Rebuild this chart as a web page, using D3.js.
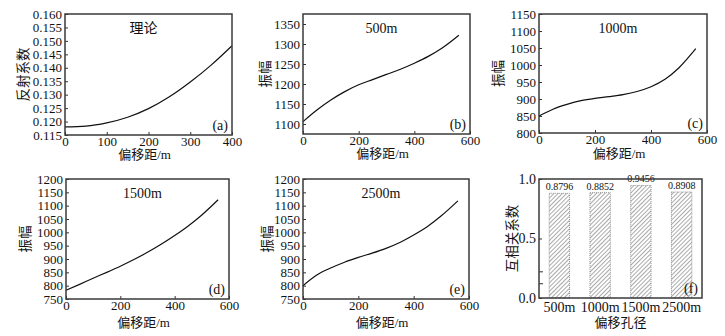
<!DOCTYPE html>
<html>
<head>
<meta charset="utf-8">
<script src="https://cdn.jsdelivr.net/npm/d3@7"></script>
<style>
  body { margin: 0; background: #fff; }
  svg text { font-family: "Liberation Serif", "Noto Sans CJK SC", serif; fill: #111; }
</style>
</head>
<body>
<svg id="chart" width="725" height="336"></svg>
<script>
// offsets (m)
const offsetsA = [0, 50, 100, 150, 200, 250, 300, 350, 400]
const offsets = [0, 50, 100, 150, 200, 250, 300, 350, 400, 450, 500, 560]

// (a) theory reflection coefficient
const reflTheory = [0.118, 0.1183, 0.1195, 0.1216, 0.1248, 0.1292, 0.1347, 0.1410, 0.1482]
// amplitudes for each aperture
const amp500 = [1106, 1135, 1160, 1181, 1198, 1211, 1224, 1237, 1252, 1269, 1290, 1322]
const amp1000 = [850, 870, 884, 895, 902, 907, 913, 922, 936, 958, 992, 1048]
const amp1500 = [783, 805, 828, 850, 873, 898, 925, 955, 988, 1024, 1065, 1122]
const amp2500 = [800, 840, 866, 888, 906, 922, 940, 962, 990, 1022, 1062, 1118]

// (f) correlation
const apertures = ['500m', '1000m', '1500m', '2500m']
const corr = [0.8796, 0.8852, 0.9456, 0.8908]
const corrTicks = [0.0, 0.5, 1.0]
const corrStrayTicks = [0.12, 0.22]

const svg = d3.select('#chart')

// hatch for bars
const defs = svg.append('defs')
defs.append('pattern')
    .attr('id', 'hatch')
    .attr('patternUnits', 'userSpaceOnUse')
    .attr('width', 3)
    .attr('height', 3)
    .attr('patternTransform', 'rotate(45)')
  .append('line')
    .attr('x1', 0).attr('y1', 0)
    .attr('x2', 0).attr('y2', 3)
    .attr('stroke', '#555')
    .attr('stroke-width', 1)

function styleAxis(g) {
    g.select('.domain').remove()
    g.selectAll('.tick line').attr('stroke', '#333').attr('stroke-width', 1)
    g.selectAll('.tick text').style('font-size', '13px').attr('fill', '#111')
}

function frame(box) {
    svg.append('rect')
        .attr('x', box.x0).attr('y', box.y0)
        .attr('width', box.x1 - box.x0).attr('height', box.y1 - box.y0)
        .attr('fill', 'none')
        .attr('stroke', '#3a3a3a')
        .attr('stroke-width', 1.5)
}

function linePanel(p) {
    const box = p.box
    const x = d3.scaleLinear().domain(p.xDomain).range([box.x0, box.x1])
    const y = d3.scaleLinear().domain(p.yDomain).range([box.y1, box.y0])

    const xAxis = svg.append('g')
        .attr('transform', 'translate(0,' + box.y1 + ')')
        .call(d3.axisBottom(x).tickValues(p.xTicks).tickSize(-3).tickPadding(2))
    styleAxis(xAxis)

    const yAxis = svg.append('g')
        .attr('transform', 'translate(' + box.x0 + ',0)')
        .call(d3.axisLeft(y).tickValues(p.yTicks).tickSize(-3).tickPadding(3).tickFormat(p.yFormat))
    styleAxis(yAxis)

    const pts = p.xs.map((v, i) => [v, p.ys[i]])
    svg.append('path')
        .datum(pts)
        .attr('fill', 'none')
        .attr('stroke', '#111')
        .attr('stroke-width', 1.2)
        .attr('d', d3.line().x(d => x(d[0])).y(d => y(d[1])).curve(d3.curveMonotoneX))

    frame(box)

    svg.append('text')
        .attr('x', (box.x0 + box.x1) / 2 - 5)
        .attr('y', box.y0 + 19)
        .attr('text-anchor', 'middle')
        .style('font-size', '14px')
        .text(p.title)

    svg.append('text')
        .attr('x', box.x1 - 4)
        .attr('y', box.y1 - 5)
        .attr('text-anchor', 'end')
        .style('font-size', '14px')
        .text(p.tag)

    svg.append('text')
        .attr('x', (box.x0 + box.x1) / 2 - 4)
        .attr('y', box.y1 + p.titleDy)
        .attr('text-anchor', 'middle')
        .style('font-size', '13px')
        .text('偏移距/m')

    svg.append('text')
        .attr('transform', 'translate(' + p.yTitleX + ',' + (box.y0 + box.y1) / 2 + ') rotate(-90)')
        .attr('text-anchor', 'middle')
        .attr('dominant-baseline', 'central')
        .style('font-size', '13.5px')
        .text(p.yTitle)
}

const xTicks600 = [0, 200, 400, 600]

linePanel({
    box: {x0: 65, x1: 232, y0: 14, y1: 135},
    xDomain: [0, 400], xTicks: [0, 100, 200, 300, 400],
    yDomain: [0.115, 0.160], yTicks: d3.range(0.115, 0.1601, 0.005), yFormat: d3.format('.3f'),
    xs: offsetsA, ys: reflTheory,
    title: '理论', tag: '(a)', yTitle: '反射系数', yTitleX: 23, titleDy: 24
})
linePanel({
    box: {x0: 303, x1: 470, y0: 14, y1: 134},
    xDomain: [0, 600], xTicks: xTicks600,
    yDomain: [1075, 1375], yTicks: d3.range(1100, 1351, 50), yFormat: d3.format('d'),
    xs: offsets, ys: amp500,
    title: '500m', tag: '(b)', yTitle: '振幅', yTitleX: 265, titleDy: 24
})
linePanel({
    box: {x0: 539, x1: 707, y0: 14, y1: 133},
    xDomain: [0, 600], xTicks: xTicks600,
    yDomain: [800, 1150], yTicks: d3.range(800, 1151, 50), yFormat: d3.format('d'),
    xs: offsets, ys: amp1000,
    title: '1000m', tag: '(c)', yTitle: '振幅', yTitleX: 498, titleDy: 25
})
linePanel({
    box: {x0: 66, x1: 229, y0: 179, y1: 299},
    xDomain: [0, 600], xTicks: xTicks600,
    yDomain: [750, 1200], yTicks: d3.range(750, 1201, 50), yFormat: d3.format('d'),
    xs: offsets, ys: amp1500,
    title: '1500m', tag: '(d)', yTitle: '振幅', yTitleX: 25, titleDy: 28
})
linePanel({
    box: {x0: 303, x1: 469, y0: 179, y1: 299},
    xDomain: [0, 600], xTicks: xTicks600,
    yDomain: [750, 1200], yTicks: d3.range(750, 1201, 50), yFormat: d3.format('d'),
    xs: offsets, ys: amp2500,
    title: '2500m', tag: '(e)', yTitle: '振幅', yTitleX: 267, titleDy: 28
})

// (f) bar panel
const fb = {x0: 539, x1: 702, y0: 179, y1: 298}
const xb = d3.scaleBand().domain(apertures).range([fb.x0, fb.x1]).paddingInner(0.5).paddingOuter(0.25)
const yb = d3.scaleLinear().domain([0, 1]).range([fb.y1, fb.y0])

svg.append('g').selectAll('rect')
    .data(apertures)
    .join('rect')
    .attr('x', d => xb(d))
    .attr('y', (d, i) => yb(corr[i]))
    .attr('width', xb.bandwidth())
    .attr('height', (d, i) => yb(0) - yb(corr[i]))
    .attr('fill', 'url(#hatch)')
    .attr('stroke', '#777')
    .attr('stroke-width', 0.8)
    .attr('stroke-dasharray', '1,1')

svg.append('g').selectAll('text')
    .data(apertures)
    .join('text')
    .attr('x', d => xb(d) + xb.bandwidth() / 2)
    .attr('y', (d, i) => yb(corr[i]) - 3)
    .attr('text-anchor', 'middle')
    .style('font-size', '10px')
    .text((d, i) => corr[i].toFixed(4))

const fx = svg.append('g')
    .attr('transform', 'translate(0,' + fb.y1 + ')')
    .call(d3.axisBottom(xb).tickSize(0).tickPadding(4))
styleAxis(fx)
fx.selectAll('.tick text').style('font-size', '14px')

const fy = svg.append('g')
    .attr('transform', 'translate(' + fb.x0 + ',0)')
    .call(d3.axisLeft(yb).tickValues(corrTicks).tickSize(-3).tickPadding(3).tickFormat(d3.format('.1f')))
styleAxis(fy)
fy.selectAll('.tick text').style('font-size', '14px')

svg.append('g').selectAll('line')
    .data(corrStrayTicks)
    .join('line')
    .attr('x1', fb.x0).attr('x2', fb.x0 + 4)
    .attr('y1', d => yb(d)).attr('y2', d => yb(d))
    .attr('stroke', '#333')

frame(fb)

svg.append('text')
    .attr('x', fb.x1 - 4)
    .attr('y', fb.y1 - 5)
    .attr('text-anchor', 'end')
    .style('font-size', '14px')
    .text('(f)')

svg.append('text')
    .attr('x', (fb.x0 + fb.x1) / 2)
    .attr('y', fb.y1 + 29)
    .attr('text-anchor', 'middle')
    .style('font-size', '13px')
    .text('偏移孔径')

svg.append('text')
    .attr('transform', 'translate(512,' + (fb.y0 + fb.y1) / 2 + ') rotate(-90)')
    .attr('text-anchor', 'middle')
    .attr('dominant-baseline', 'central')
    .style('font-size', '13.5px')
    .text('互相关系数')
</script>
</body>
</html>
